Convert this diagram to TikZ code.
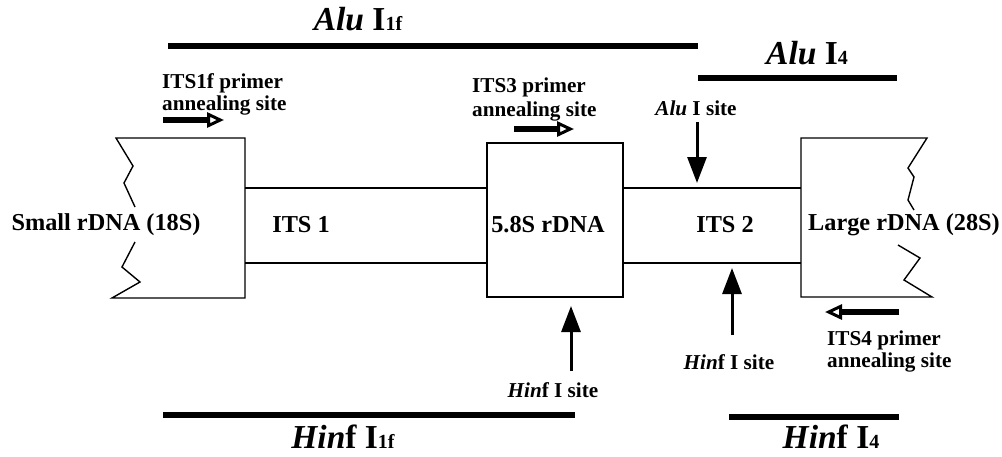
\documentclass[tikz,border=0pt]{standalone}
\usepackage{fontspec}
\setmainfont{Liberation Serif}
\usetikzlibrary{arrows.meta}
\newcommand\fragsub[1]{{\fontsize{20}{20}\selectfont #1}}
\begin{document}
\begin{tikzpicture}[x=1pt,y=-1pt,
  seg/.style={line width=1.4pt, line join=miter},
  bar/.style={line width=6pt},
  site/.style={line width=3pt, -{Triangle[length=26pt,width=19pt]}},
  primer/.style={line width=5.5pt, -{Triangle[open,length=17pt,width=15pt,line width=3pt 0]}},
  big/.style={font=\fontsize{24.3}{26}\selectfont\bfseries, inner sep=0pt},
  small/.style={font=\fontsize{21.2}{22}\selectfont\bfseries, inner sep=0pt},
  enz/.style={font=\fontsize{33.5}{35}\selectfont\bfseries, inner sep=0pt},
]
\useasboundingbox (0,0) rectangle (1002,456);

% small subunit (18S) block, broken on its left side
\draw[seg] (135,207) -- (124,183) -- (133,166) -- (116,138) -- (245,138)
  -- (245,298) -- (112,298) -- (140,282) -- (122,267) -- (135,242);
\coordinate (L1) at (245,188);
\coordinate (L2) at (245,263);

% 5.8S block
\node[draw, seg, minimum width=136pt, minimum height=154pt, inner sep=0pt] (rrna) at (555,220) {};

% large subunit (28S) block, broken on its right side
\draw[seg] (914,210) -- (908,200) -- (914,177) -- (908,168) -- (927,138)
  -- (801,138) -- (801,297) -- (932,297) -- (904,280) -- (920,258) -- (898,245);
\coordinate (R1) at (801,188);
\coordinate (R2) at (801,263);

% spacer regions
\draw[seg] (L1) -- (rrna.west |- L1);
\draw[seg] (L2) -- (rrna.west |- L2);
\draw[seg] (rrna.east |- R1) -- (R1);
\draw[seg] (rrna.east |- R2) -- (R2);

% region names
\node[big] (ssu) at (106,225) {Small rDNA (18S)};
\node[big] (its1) at (301,225) {ITS 1};
\node[big] (r58) at (548,225) {5.8S rDNA};
\node[big] (its2) at (725,225) {ITS 2};
\node[big] (lsu) at (904,225) {Large rDNA (28S)};

% primer sites
\node[small, align=left, anchor=west] (p1f) at (162,94) {ITS1f primer\\annealing site};
\node[small, align=left, anchor=west] (p3) at (472,99) {ITS3 primer\\[2pt]annealing site};
\node[small, align=left, anchor=west] (p4) at (827,351) {ITS4 primer\\annealing site};
\coordinate (p1fa) at (163,120); \coordinate (p1fb) at (224,120);
\coordinate (p3a) at (514,129);  \coordinate (p3b) at (574,129);
\coordinate (p4a) at (899,312);  \coordinate (p4b) at (825,312);
\draw[primer] (p1fa) -- (p1fb);
\draw[primer] (p3a) -- (p3b);
\draw[primer] (p4a) -- (p4b);

% restriction sites
\node[small] (alusite) at (696,108) {{\itshape Alu} I site};
\node[small] (hinfa) at (553,390) {{\itshape Hin}f I site};
\node[small] (hinfb) at (729,362) {{\itshape Hin}f I site};
\coordinate (alut) at (697,122); \coordinate (aluh) at (697,183);
\coordinate (hat) at (571,371);  \coordinate (hah) at (571,306);
\coordinate (hbt) at (732,335);  \coordinate (hbh) at (732,268);
\draw[site] (alut) -- (aluh);
\draw[site] (hat) -- (hah);
\draw[site] (hbt) -- (hbh);

% restriction fragments
\coordinate (a1a) at (168,46);  \coordinate (a1b) at (698,46);
\coordinate (a4a) at (698,78);  \coordinate (a4b) at (897,78);
\coordinate (h1a) at (163,415); \coordinate (h1b) at (575,415);
\coordinate (h4a) at (729,417); \coordinate (h4b) at (899,417);
\draw[bar] (a1a) -- (a1b);
\draw[bar] (a4a) -- (a4b);
\draw[bar] (h1a) -- (h1b);
\draw[bar] (h4a) -- (h4b);
\node[enz] (alu1f) at (358,19) {{\itshape Alu} I\fragsub{1f}};
\node[enz] (alu4) at (807,53) {{\itshape Alu} I\fragsub{4}};
\node[enz] (hinf1f) at (343,437) {{\itshape Hin}f I\fragsub{1f}};
\node[enz] (hinf4) at (831,437) {{\itshape Hin}f I\fragsub{4}};
\end{tikzpicture}
\end{document}
